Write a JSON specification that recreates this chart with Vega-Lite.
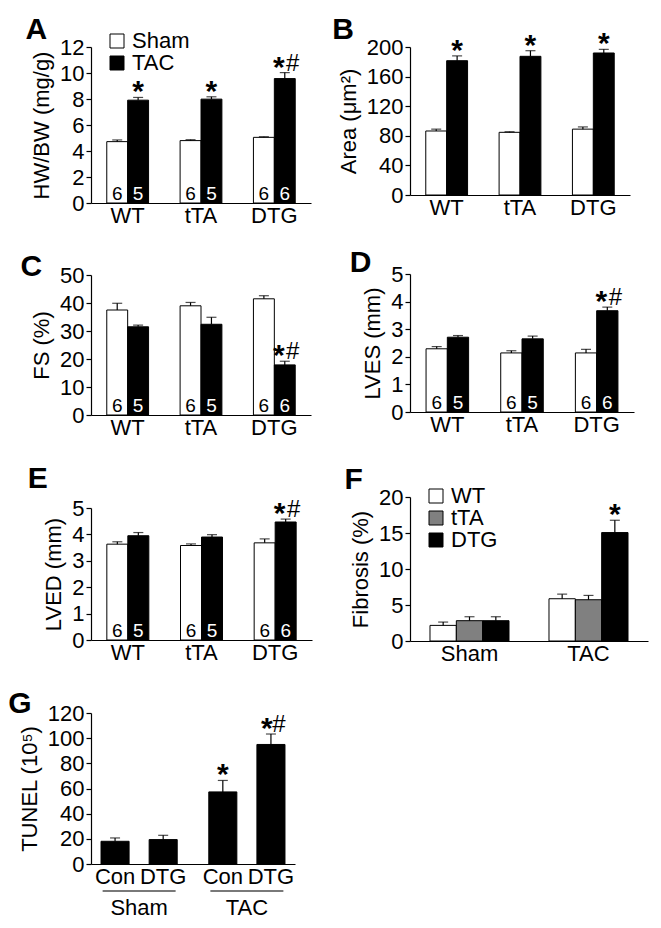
{
  "$schema": "https://vega.github.io/schema/vega-lite/v6.json",
  "padding": {"left": 8, "top": 15, "right": 5, "bottom": 5},
  "background": "white",
  "config": {
    "font": "Liberation Sans",
    "view": {"stroke": null},
    "axis": {"labelFont": "Liberation Sans", "titleFont": "Liberation Sans", "labelFontSize": 22, "titleFontSize": 22, "titleFontWeight": "normal", "domainColor": "black", "tickColor": "black", "labelColor": "black", "titleColor": "black", "grid": false, "domainWidth": 1.2, "tickWidth": 1.2, "labelOverlap": false},
    "axisX": {"ticks": false, "labelAngle": 0, "labelPadding": 2, "title": null},
    "axisY": {"tickSize": 5, "labelPadding": 2, "titlePadding": 6, "labelOverlap": false},
    "title": {"fontSize": 30, "fontWeight": "bold", "anchor": "start", "frame": "bounds", "font": "Liberation Sans", "color": "black"},
    "legend": {"labelFontSize": 22, "labelFont": "Liberation Sans", "labelColor": "black", "symbolType": "square", "symbolSize": 196, "symbolStrokeColor": "black", "symbolStrokeWidth": 1, "title": null, "rowPadding": 0, "labelOffset": 4},
    "text": {"font": "Liberation Sans"}
  },
  "spacing": 20,
  "resolve": {"scale": {"fill": "independent", "xOffset": "independent", "x": "independent", "y": "independent"}, "legend": {"fill": "independent"}},
  "hconcat": [
    {
      "spacing": 26,
      "resolve": {"scale": {"fill": "independent", "xOffset": "independent", "x": "independent", "y": "independent"}, "legend": {"fill": "independent"}},
      "vconcat": [
        {
          "title": {"text": "A", "offset": -15, "dx": -5},
          "width": 220, "height": 156,
          "data": {"values": [
            {"g": "WT", "grp": "Sham", "m": 4.72, "u": 4.85, "n": "6", "sig": ""},
            {"g": "WT", "grp": "TAC", "m": 7.91, "u": 8.12, "n": "5", "sig": "*"},
            {"g": "tTA", "grp": "Sham", "m": 4.8, "u": 4.87, "n": "6", "sig": ""},
            {"g": "tTA", "grp": "TAC", "m": 7.99, "u": 8.17, "n": "5", "sig": "*"},
            {"g": "DTG", "grp": "Sham", "m": 5.05, "u": 5.1, "n": "6", "sig": ""},
            {"g": "DTG", "grp": "TAC", "m": 9.57, "u": 10.03, "n": "6", "sig": "*#"}
          ]},
          "encoding": {
            "x": {"field": "g", "type": "nominal", "sort": ["WT", "tTA", "DTG"], "scale": {"paddingInner": 0.43, "paddingOuter": 0.215}},
            "xOffset": {"field": "grp", "type": "nominal", "sort": ["Sham", "TAC"], "scale": {"paddingInner": 0, "paddingOuter": 0}}
          },
          "layer": [
            {"mark": {"type": "bar", "stroke": "black", "strokeWidth": 1},
             "encoding": {
               "y": {"field": "m", "type": "quantitative", "scale": {"domain": [0, 12]}, "axis": {"values": [0, 2, 4, 6, 8, 10, 12], "title": "HW/BW (mg/g)", "labelOverlap": false}},
               "fill": {"field": "grp", "type": "nominal", "scale": {"domain": ["Sham", "TAC"], "range": ["white", "black"]}, "legend": {"orient": "none", "legendX": 15, "legendY": -17}}
             }},
            {"mark": {"type": "rule", "color": "black", "strokeWidth": 1.2}, "encoding": {"y": {"field": "m", "type": "quantitative", "axis": {"values": [0, 2, 4, 6, 8, 10, 12], "title": "HW/BW (mg/g)", "labelOverlap": false}}, "y2": {"field": "u"}}},
            {"mark": {"type": "tick", "color": "black", "thickness": 1.2, "size": 10, "orient": "horizontal"}, "encoding": {"y": {"field": "u", "type": "quantitative", "axis": {"values": [0, 2, 4, 6, 8, 10, 12], "title": "HW/BW (mg/g)", "labelOverlap": false}}}},
            {"mark": {"type": "text", "fontSize": 19, "baseline": "alphabetic", "dy": -3},
             "encoding": {"y": {"datum": 0, "axis": {"values": [0, 2, 4, 6, 8, 10, 12], "title": "HW/BW (mg/g)", "labelOverlap": false}}, "text": {"field": "n"}, "color": {"condition": {"test": "datum.grp === 'TAC'", "value": "white"}, "value": "black"}}},
            {"transform": [{"filter": "datum.sig === '*'"}], "mark": {"type": "text", "fontSize": 30, "fontWeight": "bold", "baseline": "alphabetic", "dy": 4, "color": "black"},
             "encoding": {"y": {"field": "u", "type": "quantitative", "axis": {"values": [0, 2, 4, 6, 8, 10, 12], "title": "HW/BW (mg/g)", "labelOverlap": false}}, "text": {"value": "*"}}},
            {"transform": [{"filter": "datum.sig === '*#'"}], "mark": {"type": "text", "fontSize": 30, "fontWeight": "bold", "baseline": "alphabetic", "dy": 4, "dx": -6, "color": "black"},
             "encoding": {"y": {"field": "u", "type": "quantitative", "axis": {"values": [0, 2, 4, 6, 8, 10, 12], "title": "HW/BW (mg/g)", "labelOverlap": false}}, "text": {"value": "*"}}},
            {"transform": [{"filter": "datum.sig === '*#'"}], "mark": {"type": "text", "fontSize": 24, "baseline": "alphabetic", "dy": -2, "dx": 8, "color": "black"},
             "encoding": {"y": {"field": "u", "type": "quantitative", "axis": {"values": [0, 2, 4, 6, 8, 10, 12], "title": "HW/BW (mg/g)", "labelOverlap": false}}, "text": {"value": "#"}}}
          ]
        },
        {
          "title": {"text": "C", "offset": -18, "dx": -10},
          "width": 220, "height": 140,
          "data": {"values": [
            {"g": "WT", "grp": "Sham", "m": 37.5, "u": 39.9, "n": "6", "sig": ""},
            {"g": "WT", "grp": "TAC", "m": 31.5, "u": 32.1, "n": "5", "sig": ""},
            {"g": "tTA", "grp": "Sham", "m": 39.0, "u": 40.2, "n": "6", "sig": ""},
            {"g": "tTA", "grp": "TAC", "m": 32.4, "u": 34.9, "n": "5", "sig": ""},
            {"g": "DTG", "grp": "Sham", "m": 41.5, "u": 42.6, "n": "6", "sig": ""},
            {"g": "DTG", "grp": "TAC", "m": 17.9, "u": 19.2, "n": "6", "sig": "*#"}
          ]},
          "encoding": {
            "x": {"field": "g", "type": "nominal", "sort": ["WT", "tTA", "DTG"], "scale": {"paddingInner": 0.43, "paddingOuter": 0.215}},
            "xOffset": {"field": "grp", "type": "nominal", "sort": ["Sham", "TAC"], "scale": {"paddingInner": 0, "paddingOuter": 0}}
          },
          "layer": [
            {"mark": {"type": "bar", "stroke": "black", "strokeWidth": 1},
             "encoding": {
               "y": {"field": "m", "type": "quantitative", "scale": {"domain": [0, 50]}, "axis": {"values": [0, 10, 20, 30, 40, 50], "title": "FS (%)", "labelOverlap": false}},
               "fill": {"field": "grp", "type": "nominal", "scale": {"domain": ["Sham", "TAC"], "range": ["white", "black"]}, "legend": null}
             }},
            {"mark": {"type": "rule", "color": "black", "strokeWidth": 1.2}, "encoding": {"y": {"field": "m", "type": "quantitative", "axis": {"values": [0, 10, 20, 30, 40, 50], "title": "FS (%)", "labelOverlap": false}}, "y2": {"field": "u"}}},
            {"mark": {"type": "tick", "color": "black", "thickness": 1.2, "size": 10, "orient": "horizontal"}, "encoding": {"y": {"field": "u", "type": "quantitative", "axis": {"values": [0, 10, 20, 30, 40, 50], "title": "FS (%)", "labelOverlap": false}}}},
            {"mark": {"type": "text", "fontSize": 19, "baseline": "alphabetic", "dy": -3},
             "encoding": {"y": {"datum": 0, "axis": {"values": [0, 10, 20, 30, 40, 50], "title": "FS (%)", "labelOverlap": false}}, "text": {"field": "n"}, "color": {"condition": {"test": "datum.grp === 'TAC'", "value": "white"}, "value": "black"}}},
            {"transform": [{"filter": "datum.sig === '*#'"}], "mark": {"type": "text", "fontSize": 30, "fontWeight": "bold", "baseline": "alphabetic", "dy": 4, "dx": -6, "color": "black"},
             "encoding": {"y": {"field": "u", "type": "quantitative", "axis": {"values": [0, 10, 20, 30, 40, 50], "title": "FS (%)", "labelOverlap": false}}, "text": {"value": "*"}}},
            {"transform": [{"filter": "datum.sig === '*#'"}], "mark": {"type": "text", "fontSize": 24, "baseline": "alphabetic", "dy": -2, "dx": 8, "color": "black"},
             "encoding": {"y": {"field": "u", "type": "quantitative", "axis": {"values": [0, 10, 20, 30, 40, 50], "title": "FS (%)", "labelOverlap": false}}, "text": {"value": "#"}}}
          ]
        },
        {
          "title": {"text": "E", "offset": 3, "dx": -15},
          "width": 221, "height": 132,
          "data": {"values": [
            {"g": "WT", "grp": "Sham", "m": 3.63, "u": 3.72, "n": "6", "sig": ""},
            {"g": "WT", "grp": "TAC", "m": 3.95, "u": 4.07, "n": "5", "sig": ""},
            {"g": "tTA", "grp": "Sham", "m": 3.58, "u": 3.64, "n": "6", "sig": ""},
            {"g": "tTA", "grp": "TAC", "m": 3.9, "u": 3.99, "n": "5", "sig": ""},
            {"g": "DTG", "grp": "Sham", "m": 3.68, "u": 3.83, "n": "6", "sig": ""},
            {"g": "DTG", "grp": "TAC", "m": 4.47, "u": 4.58, "n": "6", "sig": "*#"}
          ]},
          "encoding": {
            "x": {"field": "g", "type": "nominal", "sort": ["WT", "tTA", "DTG"], "scale": {"paddingInner": 0.43, "paddingOuter": 0.215}},
            "xOffset": {"field": "grp", "type": "nominal", "sort": ["Sham", "TAC"], "scale": {"paddingInner": 0, "paddingOuter": 0}}
          },
          "layer": [
            {"mark": {"type": "bar", "stroke": "black", "strokeWidth": 1},
             "encoding": {
               "y": {"field": "m", "type": "quantitative", "scale": {"domain": [0, 5]}, "axis": {"values": [0, 1, 2, 3, 4, 5], "title": "LVED (mm)", "labelOverlap": false}},
               "fill": {"field": "grp", "type": "nominal", "scale": {"domain": ["Sham", "TAC"], "range": ["white", "black"]}, "legend": null}
             }},
            {"mark": {"type": "rule", "color": "black", "strokeWidth": 1.2}, "encoding": {"y": {"field": "m", "type": "quantitative", "axis": {"values": [0, 1, 2, 3, 4, 5], "title": "LVED (mm)", "labelOverlap": false}}, "y2": {"field": "u"}}},
            {"mark": {"type": "tick", "color": "black", "thickness": 1.2, "size": 10, "orient": "horizontal"}, "encoding": {"y": {"field": "u", "type": "quantitative", "axis": {"values": [0, 1, 2, 3, 4, 5], "title": "LVED (mm)", "labelOverlap": false}}}},
            {"mark": {"type": "text", "fontSize": 19, "baseline": "alphabetic", "dy": -3},
             "encoding": {"y": {"datum": 0, "axis": {"values": [0, 1, 2, 3, 4, 5], "title": "LVED (mm)", "labelOverlap": false}}, "text": {"field": "n"}, "color": {"condition": {"test": "datum.grp === 'TAC'", "value": "white"}, "value": "black"}}},
            {"transform": [{"filter": "datum.sig === '*#'"}], "mark": {"type": "text", "fontSize": 30, "fontWeight": "bold", "baseline": "alphabetic", "dy": 4, "dx": -6, "color": "black"},
             "encoding": {"y": {"field": "u", "type": "quantitative", "axis": {"values": [0, 1, 2, 3, 4, 5], "title": "LVED (mm)", "labelOverlap": false}}, "text": {"value": "*"}}},
            {"transform": [{"filter": "datum.sig === '*#'"}], "mark": {"type": "text", "fontSize": 24, "baseline": "alphabetic", "dy": -2, "dx": 8, "color": "black"},
             "encoding": {"y": {"field": "u", "type": "quantitative", "axis": {"values": [0, 1, 2, 3, 4, 5], "title": "LVED (mm)", "labelOverlap": false}}, "text": {"value": "#"}}}
          ]
        },
        {
          "title": {"text": "G", "offset": -17, "dx": -10},
          "width": 204, "height": 151,
          "data": {"values": [
            {"s": "Sham", "c": "Con", "m": 18.05, "u": 20.7, "sig": ""},
            {"s": "Sham", "c": "DTG", "m": 19.4, "u": 22.8, "sig": ""},
            {"s": "TAC", "c": "Con", "m": 57.3, "u": 66.4, "sig": "*"},
            {"s": "TAC", "c": "DTG", "m": 95.0, "u": 103.3, "sig": "*#"}
          ]},
          "encoding": {
            "x": {"field": "s", "type": "nominal", "sort": ["Sham", "TAC"], "scale": {"paddingInner": 0.107, "paddingOuter": 0}, "axis": {"labelPadding": 33}}
          },
          "layer": [
            {"mark": {"type": "bar", "fill": "black", "stroke": "black", "strokeWidth": 1},
             "encoding": {
               "xOffset": {"field": "c", "type": "nominal", "sort": ["Con", "DTG"], "scale": {"paddingInner": 0.4167, "paddingOuter": 0.2083}},
               "y": {"field": "m", "type": "quantitative", "scale": {"domain": [0, 120]}, "axis": {"values": [0, 20, 40, 60, 80, 100, 120], "title": "TUNEL (10⁵)", "labelOverlap": false}}
             }},
            {"mark": {"type": "rule", "color": "black", "strokeWidth": 1.2}, "encoding": {"xOffset": {"field": "c", "type": "nominal", "sort": ["Con", "DTG"]}, "y": {"field": "m", "type": "quantitative", "axis": {"values": [0, 20, 40, 60, 80, 100, 120], "title": "TUNEL (10⁵)", "labelOverlap": false}}, "y2": {"field": "u"}}},
            {"mark": {"type": "tick", "color": "black", "thickness": 1.2, "size": 10, "orient": "horizontal"}, "encoding": {"xOffset": {"field": "c", "type": "nominal", "sort": ["Con", "DTG"]}, "y": {"field": "u", "type": "quantitative", "axis": {"values": [0, 20, 40, 60, 80, 100, 120], "title": "TUNEL (10⁵)", "labelOverlap": false}}}},
            {"mark": {"type": "text", "fontSize": 22, "baseline": "top", "dy": 3, "color": "black"},
             "encoding": {"xOffset": {"field": "c", "type": "nominal", "sort": ["Con", "DTG"]}, "y": {"datum": 0, "axis": {"values": [0, 20, 40, 60, 80, 100, 120], "title": "TUNEL (10⁵)", "labelOverlap": false}}, "text": {"field": "c"}}},
            {"transform": [{"filter": "datum.c === 'Con'"}], "mark": {"type": "tick", "color": "black", "thickness": 1.5, "size": 73, "orient": "horizontal", "yOffset": 27},
             "encoding": {"y": {"datum": 0, "axis": {"values": [0, 20, 40, 60, 80, 100, 120], "title": "TUNEL (10⁵)", "labelOverlap": false}}}},
            {"transform": [{"filter": "datum.sig === '*'"}], "mark": {"type": "text", "fontSize": 30, "fontWeight": "bold", "baseline": "alphabetic", "dy": 4, "color": "black"},
             "encoding": {"xOffset": {"field": "c", "type": "nominal", "sort": ["Con", "DTG"]}, "y": {"field": "u", "type": "quantitative", "axis": {"values": [0, 20, 40, 60, 80, 100, 120], "title": "TUNEL (10⁵)", "labelOverlap": false}}, "text": {"value": "*"}}},
            {"transform": [{"filter": "datum.sig === '*#'"}], "mark": {"type": "text", "fontSize": 30, "fontWeight": "bold", "baseline": "alphabetic", "dy": 4, "dx": -4, "color": "black"},
             "encoding": {"xOffset": {"field": "c", "type": "nominal", "sort": ["Con", "DTG"]}, "y": {"field": "u", "type": "quantitative", "axis": {"values": [0, 20, 40, 60, 80, 100, 120], "title": "TUNEL (10⁵)", "labelOverlap": false}}, "text": {"value": "*"}}},
            {"transform": [{"filter": "datum.sig === '*#'"}], "mark": {"type": "text", "fontSize": 24, "baseline": "alphabetic", "dy": -2, "dx": 8, "color": "black"},
             "encoding": {"xOffset": {"field": "c", "type": "nominal", "sort": ["Con", "DTG"]}, "y": {"field": "u", "type": "quantitative", "axis": {"values": [0, 20, 40, 60, 80, 100, 120], "title": "TUNEL (10⁵)", "labelOverlap": false}}, "text": {"value": "#"}}}
          ]
        }
      ]
    },
    {
      "spacing": 30,
      "resolve": {"scale": {"fill": "independent", "xOffset": "independent", "x": "independent", "y": "independent"}, "legend": {"fill": "independent"}},
      "vconcat": [
        {
          "title": {"text": "B", "offset": -16, "dx": -5},
          "width": 220, "height": 148,
          "data": {"values": [
            {"g": "WT", "grp": "Sham", "m": 86.5, "u": 89, "sig": ""},
            {"g": "WT", "grp": "TAC", "m": 181.5, "u": 188, "sig": "*"},
            {"g": "tTA", "grp": "Sham", "m": 84.7, "u": 85.5, "sig": ""},
            {"g": "tTA", "grp": "TAC", "m": 187.4, "u": 195, "sig": "*"},
            {"g": "DTG", "grp": "Sham", "m": 89, "u": 92, "sig": ""},
            {"g": "DTG", "grp": "TAC", "m": 191.9, "u": 196.8, "sig": "*"}
          ]},
          "encoding": {
            "x": {"field": "g", "type": "nominal", "sort": ["WT", "tTA", "DTG"], "scale": {"paddingInner": 0.43, "paddingOuter": 0.215}},
            "xOffset": {"field": "grp", "type": "nominal", "sort": ["Sham", "TAC"], "scale": {"paddingInner": 0, "paddingOuter": 0}}
          },
          "layer": [
            {"mark": {"type": "bar", "stroke": "black", "strokeWidth": 1},
             "encoding": {
               "y": {"field": "m", "type": "quantitative", "scale": {"domain": [0, 200]}, "axis": {"values": [0, 40, 80, 120, 160, 200], "title": "Area (μm²)", "labelOverlap": false}},
               "fill": {"field": "grp", "type": "nominal", "scale": {"domain": ["Sham", "TAC"], "range": ["white", "black"]}, "legend": null}
             }},
            {"mark": {"type": "rule", "color": "black", "strokeWidth": 1.2}, "encoding": {"y": {"field": "m", "type": "quantitative", "axis": {"values": [0, 40, 80, 120, 160, 200], "title": "Area (μm²)", "labelOverlap": false}}, "y2": {"field": "u"}}},
            {"mark": {"type": "tick", "color": "black", "thickness": 1.2, "size": 10, "orient": "horizontal"}, "encoding": {"y": {"field": "u", "type": "quantitative", "axis": {"values": [0, 40, 80, 120, 160, 200], "title": "Area (μm²)", "labelOverlap": false}}}},
            {"transform": [{"filter": "datum.sig === '*'"}], "mark": {"type": "text", "fontSize": 30, "fontWeight": "bold", "baseline": "alphabetic", "dy": 4, "color": "black"},
             "encoding": {"y": {"field": "u", "type": "quantitative", "axis": {"values": [0, 40, 80, 120, 160, 200], "title": "Area (μm²)", "labelOverlap": false}}, "text": {"value": "*"}}}
          ]
        },
        {
          "title": {"text": "D", "offset": -15, "dx": -12},
          "width": 224, "height": 138,
          "data": {"values": [
            {"g": "WT", "grp": "Sham", "m": 2.29, "u": 2.37, "n": "6", "sig": ""},
            {"g": "WT", "grp": "TAC", "m": 2.71, "u": 2.77, "n": "5", "sig": ""},
            {"g": "tTA", "grp": "Sham", "m": 2.14, "u": 2.22, "n": "6", "sig": ""},
            {"g": "tTA", "grp": "TAC", "m": 2.65, "u": 2.75, "n": "5", "sig": ""},
            {"g": "DTG", "grp": "Sham", "m": 2.14, "u": 2.27, "n": "6", "sig": ""},
            {"g": "DTG", "grp": "TAC", "m": 3.67, "u": 3.8, "n": "6", "sig": "*#"}
          ]},
          "encoding": {
            "x": {"field": "g", "type": "nominal", "sort": ["WT", "tTA", "DTG"], "scale": {"paddingInner": 0.43, "paddingOuter": 0.215}},
            "xOffset": {"field": "grp", "type": "nominal", "sort": ["Sham", "TAC"], "scale": {"paddingInner": 0, "paddingOuter": 0}}
          },
          "layer": [
            {"mark": {"type": "bar", "stroke": "black", "strokeWidth": 1},
             "encoding": {
               "y": {"field": "m", "type": "quantitative", "scale": {"domain": [0, 5]}, "axis": {"values": [0, 1, 2, 3, 4, 5], "title": "LVES (mm)", "labelOverlap": false}},
               "fill": {"field": "grp", "type": "nominal", "scale": {"domain": ["Sham", "TAC"], "range": ["white", "black"]}, "legend": null}
             }},
            {"mark": {"type": "rule", "color": "black", "strokeWidth": 1.2}, "encoding": {"y": {"field": "m", "type": "quantitative", "axis": {"values": [0, 1, 2, 3, 4, 5], "title": "LVES (mm)", "labelOverlap": false}}, "y2": {"field": "u"}}},
            {"mark": {"type": "tick", "color": "black", "thickness": 1.2, "size": 10, "orient": "horizontal"}, "encoding": {"y": {"field": "u", "type": "quantitative", "axis": {"values": [0, 1, 2, 3, 4, 5], "title": "LVES (mm)", "labelOverlap": false}}}},
            {"mark": {"type": "text", "fontSize": 19, "baseline": "alphabetic", "dy": -3},
             "encoding": {"y": {"datum": 0, "axis": {"values": [0, 1, 2, 3, 4, 5], "title": "LVES (mm)", "labelOverlap": false}}, "text": {"field": "n"}, "color": {"condition": {"test": "datum.grp === 'TAC'", "value": "white"}, "value": "black"}}},
            {"transform": [{"filter": "datum.sig === '*#'"}], "mark": {"type": "text", "fontSize": 30, "fontWeight": "bold", "baseline": "alphabetic", "dy": 4, "dx": -6, "color": "black"},
             "encoding": {"y": {"field": "u", "type": "quantitative", "axis": {"values": [0, 1, 2, 3, 4, 5], "title": "LVES (mm)", "labelOverlap": false}}, "text": {"value": "*"}}},
            {"transform": [{"filter": "datum.sig === '*#'"}], "mark": {"type": "text", "fontSize": 24, "baseline": "alphabetic", "dy": -2, "dx": 8, "color": "black"},
             "encoding": {"y": {"field": "u", "type": "quantitative", "axis": {"values": [0, 1, 2, 3, 4, 5], "title": "LVES (mm)", "labelOverlap": false}}, "text": {"value": "#"}}}
          ]
        },
        {
          "title": {"text": "F", "offset": -10, "dx": -5},
          "width": 238, "height": 144,
          "data": {"values": [
            {"s": "Sham", "g": "WT", "m": 2.17, "u": 2.63, "sig": ""},
            {"s": "Sham", "g": "tTA", "m": 2.82, "u": 3.37, "sig": ""},
            {"s": "Sham", "g": "DTG", "m": 2.82, "u": 3.37, "sig": ""},
            {"s": "TAC", "g": "WT", "m": 5.87, "u": 6.51, "sig": ""},
            {"s": "TAC", "g": "tTA", "m": 5.73, "u": 6.33, "sig": ""},
            {"s": "TAC", "g": "DTG", "m": 15.06, "u": 16.77, "sig": "*"}
          ]},
          "encoding": {
            "x": {"field": "s", "type": "nominal", "sort": ["Sham", "TAC"], "scale": {"paddingInner": 0.336, "paddingOuter": 0.168}},
            "xOffset": {"field": "g", "type": "nominal", "sort": ["WT", "tTA", "DTG"], "scale": {"paddingInner": 0, "paddingOuter": 0}}
          },
          "layer": [
            {"mark": {"type": "bar", "stroke": "black", "strokeWidth": 1},
             "encoding": {
               "y": {"field": "m", "type": "quantitative", "scale": {"domain": [0, 20]}, "axis": {"values": [0, 5, 10, 15, 20], "title": "Fibrosis (%)", "labelOverlap": false}},
               "fill": {"field": "g", "type": "nominal", "scale": {"domain": ["WT", "tTA", "DTG"], "range": ["white", "#808080", "black"]}, "legend": {"orient": "none", "legendX": 15, "legendY": -12}}
             }},
            {"mark": {"type": "rule", "color": "black", "strokeWidth": 1.2}, "encoding": {"y": {"field": "m", "type": "quantitative", "axis": {"values": [0, 5, 10, 15, 20], "title": "Fibrosis (%)", "labelOverlap": false}}, "y2": {"field": "u"}}},
            {"mark": {"type": "tick", "color": "black", "thickness": 1.2, "size": 10, "orient": "horizontal"}, "encoding": {"y": {"field": "u", "type": "quantitative", "axis": {"values": [0, 5, 10, 15, 20], "title": "Fibrosis (%)", "labelOverlap": false}}}},
            {"transform": [{"filter": "datum.sig === '*'"}], "mark": {"type": "text", "fontSize": 30, "fontWeight": "bold", "baseline": "alphabetic", "dy": 4, "color": "black"},
             "encoding": {"y": {"field": "u", "type": "quantitative", "axis": {"values": [0, 5, 10, 15, 20], "title": "Fibrosis (%)", "labelOverlap": false}}, "text": {"value": "*"}}}
          ]
        }
      ]
    }
  ]
}
